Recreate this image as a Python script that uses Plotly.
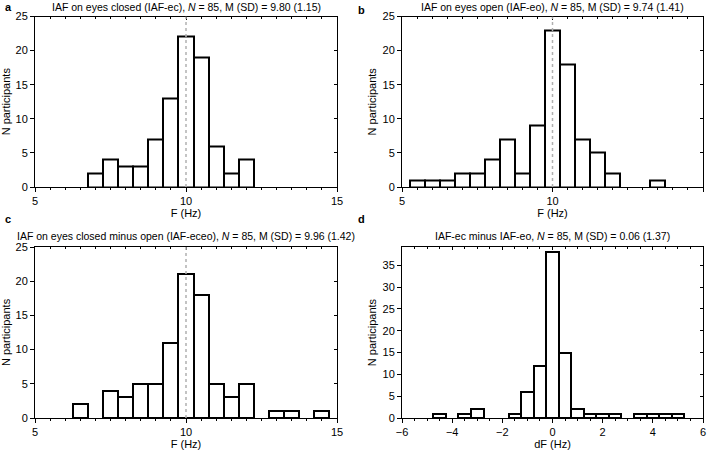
import plotly.graph_objects as go

# ---- data (bin centres in Hz, counts) ----
a_centers = [7.0, 7.5, 8.0, 8.5, 9.0, 9.5, 10.0, 10.5, 11.0, 11.5, 12.0]
a_counts = [2, 4, 3, 3, 7, 13, 22, 19, 6, 2, 4]

b_centers = [5.5, 6.0, 6.5, 7.0, 7.5, 8.0, 8.5, 9.0, 9.5, 10.0, 10.5, 11.0, 11.5, 12.0, 13.5]
b_counts = [1, 1, 1, 2, 2, 4, 7, 2, 9, 23, 18, 7, 5, 2, 1]

c_centers = [6.5, 7.5, 8.0, 8.5, 9.0, 9.5, 10.0, 10.5, 11.0, 11.5, 12.0, 13.0, 13.5, 14.5]
c_counts = [2, 4, 3, 5, 5, 11, 21, 18, 5, 3, 5, 1, 1, 1]

d_centers = [-4.5, -3.5, -3.0, -1.5, -1.0, -0.5, 0.0, 0.5, 1.0, 1.5, 2.0, 2.5, 3.5, 4.0, 4.5, 5.0]
d_counts = [1, 1, 2, 1, 6, 12, 38, 15, 2, 1, 1, 1, 1, 1, 1, 1]

bin_width = 0.5

titles = [
    "IAF on eyes closed (IAF-ec), <i>N</i> = 85, M (SD) = 9.80 (1.15)",
    "IAF on eyes open (IAF-eo), <i>N</i> = 85, M (SD) = 9.74 (1.41)",
    "IAF on eyes closed minus open (IAF-eceo), <i>N</i> = 85, M (SD) = 9.96 (1.42)",
    "IAF-ec minus IAF-eo, <i>N</i> = 85, M (SD) = 0.06 (1.37)",
]
letters = ["a", "b", "c", "d"]
x_titles = ["F (Hz)", "F (Hz)", "F (Hz)", "dF (Hz)"]
y_title = "N participants"

FONT = "Liberation Sans, Arial, sans-serif"
W, H = 709, 452

xdom = [[35 / W, 337 / W], [402 / W, 703 / W]]
ydom_top = [1 - 187 / H, 1 - 16.5 / H]
ydom_bot = [1 - 418 / H, 1 - 247 / H]

panels = [
    dict(cx=a_centers, cy=a_counts, xd=xdom[0], yd=ydom_top, xr=[5, 15], yr=[0, 25], xt=[5, 10, 15], yt=list(range(0, 26, 5)), mean=10),
    dict(cx=b_centers, cy=b_counts, xd=xdom[1], yd=ydom_top, xr=[5, 15], yr=[0, 25], xt=[5, 10, 15], yt=list(range(0, 26, 5)), mean=10),
    dict(cx=c_centers, cy=c_counts, xd=xdom[0], yd=ydom_bot, xr=[5, 15], yr=[0, 25], xt=[5, 10, 15], yt=list(range(0, 26, 5)), mean=10),
    dict(cx=d_centers, cy=d_counts, xd=xdom[1], yd=ydom_bot, xr=[-6, 6], yr=[0, 39.2], xt=[-6, -4, -2, 0, 2, 4, 6], yt=list(range(0, 36, 5)), mean=None),
]

fig = go.Figure()
layout = dict(
    width=W, height=H, margin=dict(l=0, r=0, t=0, b=0, autoexpand=False),
    paper_bgcolor="white", plot_bgcolor="white", showlegend=False,
    font=dict(family=FONT, size=11, color="black"),
    bargap=0,
)
shapes = []
annotations = []

for i, p in enumerate(panels):
    n = i + 1
    xa = "x" if n == 1 else f"x{n}"
    ya = "y" if n == 1 else f"y{n}"
    fig.add_trace(go.Bar(
        x=p["cx"], y=p["cy"], width=bin_width,
        marker=dict(color="white", line=dict(color="black", width=2)),
        xaxis=xa, yaxis=ya, hoverinfo="skip",
    ))
    tickfont = dict(family=FONT, size=11, color="black")
    layout[f"xaxis{n}"] = dict(
        domain=p["xd"], anchor=ya, range=p["xr"], tickvals=p["xt"],
        ticks="outside", ticklen=4, tickcolor="black", tickwidth=1,
        minor=dict(dtick=0.5, ticks="outside", ticklen=2, tickcolor="black"),
        showline=True, linecolor="black", linewidth=1, mirror=True,
        showgrid=False, zeroline=False, tickfont=tickfont, automargin=False,
        title=dict(text=x_titles[i], font=dict(family=FONT, size=11), standoff=3),
    )
    layout[f"yaxis{n}"] = dict(
        domain=p["yd"], anchor=xa, range=p["yr"], tickvals=p["yt"],
        ticks="outside", ticklen=4, tickcolor="black", tickwidth=1,
        showline=True, linecolor="black", linewidth=1, mirror=True,
        showgrid=False, zeroline=False, tickfont=tickfont, automargin=False,
        title=dict(text=y_title, font=dict(family=FONT, size=11), standoff=3),
    )
    # overlay axes for inward ticks on top and right
    n2 = n + 4
    fig.add_trace(go.Scatter(x=[None], y=[None], xaxis=f"x{n2}", yaxis=f"y{n2}",
                             mode="markers", hoverinfo="skip"))
    layout[f"xaxis{n2}"] = dict(
        overlaying=xa, anchor=f"y{n2}", side="top", range=p["xr"], tickvals=p["xt"],
        ticks="inside", ticklen=3, tickcolor="black", showticklabels=False,
        minor=dict(dtick=0.5, ticks="inside", ticklen=2, tickcolor="black"),
        showgrid=False, zeroline=False, showline=False, automargin=False,
    )
    layout[f"yaxis{n2}"] = dict(
        overlaying=ya, anchor=f"x{n2}", side="right", range=p["yr"], tickvals=p["yt"],
        ticks="inside", ticklen=3, tickcolor="black", showticklabels=False,
        showgrid=False, zeroline=False, showline=False, automargin=False,
    )
    if p["mean"] is not None:
        shapes.append(dict(
            type="line", xref=xa, yref=ya, x0=p["mean"], x1=p["mean"],
            y0=p["yr"][0], y1=p["yr"][1],
            line=dict(color="#b0b0b0", width=1.5, dash="dot"), layer="above",
        ))
    xc = (p["xd"][0] + p["xd"][1]) / 2
    ty = (1 - 7.5 / H) if i < 2 else (1 - 235.5 / H)
    annotations.append(dict(
        text=titles[i], xref="paper", yref="paper", x=xc, y=ty,
        xanchor="center", yanchor="middle", showarrow=False, borderpad=0,
        font=dict(family=FONT, size=10.5, color="black"),
    ))
    lx = 4 / W if i % 2 == 0 else 357 / W
    ly = (1 - 7.5 / H) if i == 0 else (1 - 10 / H) if i == 1 else (1 - 219 / H)
    annotations.append(dict(
        text=f"<b>{letters[i]}</b>", xref="paper", yref="paper", x=lx, y=ly,
        xanchor="left", yanchor="middle", showarrow=False, borderpad=0,
        font=dict(family=FONT, size=11, color="black"),
    ))

layout["shapes"] = shapes
layout["annotations"] = annotations
fig.update_layout(**layout)
fig.write_html("out.html", config={"displayModeBar": False},
               post_script="document.body.style.margin='0';")
